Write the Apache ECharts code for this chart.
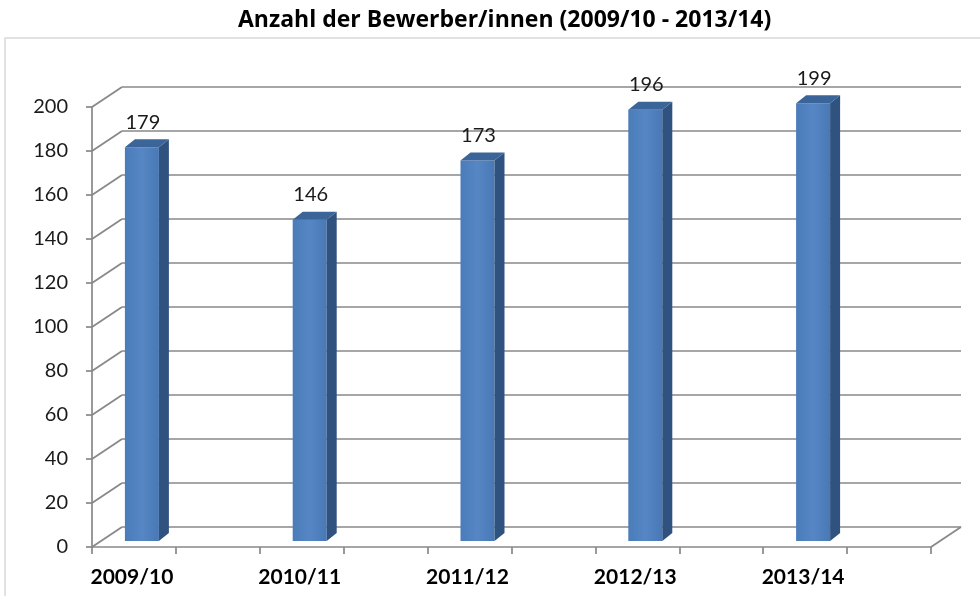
<!DOCTYPE html>
<html>
<head>
<meta charset="utf-8">
<script src="https://cdn.jsdelivr.net/npm/echarts@6/dist/echarts.min.js"></script>
<style>
  html, body { margin: 0; padding: 0; background: #fff; }
  #main { width: 980px; height: 596px; }
</style>
</head>
<body>
<div id="main"></div>
<script>
// Daten
const categories = ['2009/10', '2010/11', '2011/12', '2012/13', '2013/14'];
const applicants = [179, 146, 173, 196, 199];
const yTicks = [0, 20, 40, 60, 80, 100, 120, 140, 160, 180, 200];

// 3D-Optik (Wandtiefe, Balkentiefe)
const WALL_DX = 30, WALL_DY = -20;
const BAR_W = 34, BAR_DX = 10, BAR_DY = -8;
const BAR_SHIFT = -34, BAR_LIFT = -6;
const LINE_COLOR = '#888888';
const FONT = 'Lato, "Open Sans", sans-serif';

const chartDom = document.getElementById('main');
const myChart = echarts.init(chartDom);

const option = {
  animation: false,
  title: {
    text: 'Anzahl der Bewerber/innen (2009/10 - 2013/14)',
    left: 233,
    top: 4,
    textStyle: { fontFamily: '"Open Sans", sans-serif', fontSize: 23, fontWeight: 'bold', color: '#000' }
  },
  graphic: [{
    type: 'rect',
    shape: { x: 5, y: 38, width: 990, height: 600 },
    style: { fill: 'none', stroke: '#d9d9d9', lineWidth: 1.5 },
    silent: true,
    z: -10
  }],
  grid: { left: 92, right: 49, top: 107, bottom: 49 },
  xAxis: [
    {
      type: 'category',
      data: categories,
      position: 'bottom',
      axisLine: { lineStyle: { color: LINE_COLOR, width: 1.7 } },
      axisTick: { show: true, alignWithLabel: false, length: 7, lineStyle: { color: LINE_COLOR, width: 1.7 } },
      axisLabel: {
        margin: 20,
        padding: [0, 88, 0, 0],
        fontFamily: FONT, fontSize: 21, fontWeight: 'bold', color: '#000'
      }
    },
    {
      type: 'category',
      data: categories,
      position: 'bottom',
      axisLine: { show: false },
      axisTick: { show: true, alignWithLabel: true, length: 7, lineStyle: { color: LINE_COLOR, width: 1.7 } },
      axisLabel: { show: false }
    }
  ],
  yAxis: {
    type: 'value',
    min: 0,
    max: 200,
    interval: 20,
    axisLine: { show: true, lineStyle: { color: LINE_COLOR, width: 1.7 } },
    axisTick: { show: true, length: 6, lineStyle: { color: LINE_COLOR, width: 1.7 } },
    splitLine: { show: false },
    axisLabel: { margin: 24, fontFamily: FONT, fontSize: 20, color: '#1a1a1a' }
  },
  series: [
    {
      // Rückwand und Boden: Gitterlinien + Diagonalen
      type: 'custom',
      silent: true,
      clip: false,
      z: 1,
      data: yTicks.map(v => [0, v]),
      renderItem: function (params, api) {
        const cs = params.coordSys;
        const v = api.value(1);
        const y = api.coord([0, v])[1];
        const style = { stroke: LINE_COLOR, lineWidth: 1.7 };
        const children = [
          { type: 'line', shape: { x1: cs.x, y1: y, x2: cs.x + WALL_DX, y2: y + WALL_DY }, style },
          { type: 'line', shape: { x1: cs.x + WALL_DX, y1: y + WALL_DY, x2: cs.x + cs.width + WALL_DX, y2: y + WALL_DY }, style }
        ];
        if (v === 0) {
          children.push({ type: 'line', shape: { x1: cs.x + cs.width, y1: y, x2: cs.x + cs.width + WALL_DX, y2: y + WALL_DY }, style });
        }
        return { type: 'group', children };
      }
    },
    {
      // 3D-Säulen
      type: 'custom',
      clip: false,
      z: 3,
      data: applicants.map((v, i) => [i, v]),
      renderItem: function (params, api) {
        const base = api.coord([api.value(0), 0]);
        const top = api.coord([api.value(0), api.value(1)]);
        const cx = base[0] + BAR_SHIFT;
        const x0 = cx - BAR_W / 2, x1 = cx + BAR_W / 2;
        const yb = base[1] + BAR_LIFT, yt = top[1] + BAR_LIFT;
        return {
          type: 'group',
          children: [
            {
              type: 'rect',
              shape: { x: x0, y: yt, width: BAR_W, height: yb - yt },
              style: {
                fill: new echarts.graphic.LinearGradient(0, 0, 1, 0, [
                  { offset: 0, color: '#4a7cba' },
                  { offset: 0.5, color: '#5687c4' },
                  { offset: 1, color: '#4878b6' }
                ])
              }
            },
            {
              type: 'polygon',
              shape: { points: [[x1, yt], [x1 + BAR_DX, yt + BAR_DY], [x1 + BAR_DX, yb + BAR_DY], [x1, yb]] },
              style: { fill: '#30527f' }
            },
            {
              type: 'polygon',
              shape: { points: [[x0, yt], [x0 + BAR_DX, yt + BAR_DY], [x1 + BAR_DX, yt + BAR_DY], [x1, yt]] },
              style: { fill: '#3b6498' }
            },
            {
              type: 'text',
              style: {
                x: cx + 1,
                y: yt - 15,
                text: String(api.value(1)),
                align: 'center',
                verticalAlign: 'bottom',
                fontFamily: FONT,
                fontSize: 20,
                fill: '#1a1a1a'
              }
            }
          ]
        };
      }
    }
  ]
};

myChart.setOption(option);
</script>
</body>
</html>
